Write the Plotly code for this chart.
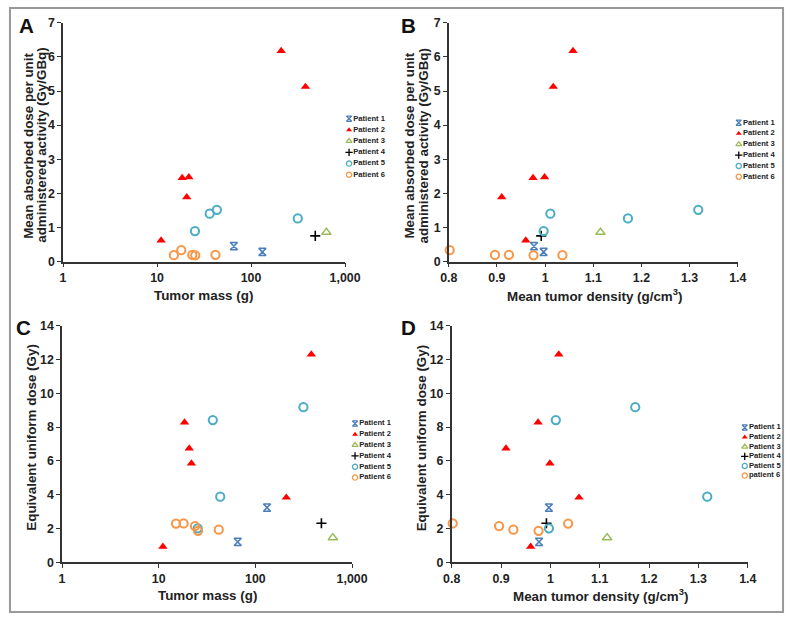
import plotly.graph_objects as go

# ---- данні: одне значення на кожне ураження ----
patient_names = ["Patient 1", "Patient 2", "Patient 3", "Patient 4", "Patient 5", "Patient 6"]
lesion_patient = [1, 1, 2, 2, 2, 2, 2, 2, 3, 4, 5, 5, 5, 5, 6, 6, 6, 6, 6]
tumor_mass = [65.7, 132, 11.05, 18.5, 20.7, 21.8, 209, 379, 633, 482,
              25.3, 36.3, 43.3, 314, 15.1, 18.1, 23.7, 25.5, 41.8]
tumor_density = [0.977, 0.997, 0.960, 0.975, 0.910, 0.999, 1.058, 1.017, 1.115, 0.992,
                 0.997, 1.011, 1.318, 1.172, 1.036, 0.802, 0.896, 0.976, 0.925]
dose_per_activity = [0.455, 0.285, 0.625, 2.455, 1.89, 2.475, 6.175, 5.125, 0.86, 0.755,
                     0.895, 1.405, 1.52, 1.265, 0.19, 0.335, 0.195, 0.185, 0.20]
eud = [1.22, 3.24, 0.93, 8.28, 6.74, 5.86, 3.84, 12.30, 1.46, 2.32,
       2.02, 8.42, 3.89, 9.18, 2.30, 2.31, 2.15, 1.87, 1.94]

mass_ticks = [1, 10, 100, 1000]
mass_ticktext = ["1", "10", "100", "1,000"]
density_ticks = [0.8, 0.9, 1.0, 1.1, 1.2, 1.3, 1.4]
density_ticktext = ["0.8", "0.9", "1", "1.1", "1.2", "1.3", "1.4"]
legend_labels_d = ["Patient 1", "Patient 2", "Patient 3", "Patient 4", "Patient 5", "patient 6"]

W, H = 800, 620
FONT = "Liberation Sans, Arial, sans-serif"

# знімок вікна приходить зменшеним і зсунутим: D = O + S * px (підібрано по сітці)
SX, OX = 0.972, 7.8
SY, OY = 0.978, 6.2
FS = 1.03  # компенсація масштабу для шрифтів і маркерів

STYLES = {
    1: dict(symbol="hourglass-open", color="#4A7EBB", size=7, line=dict(width=1.6)),
    2: dict(symbol="triangle-up", color="#FF0000", size=8, line=dict(width=0)),
    3: dict(symbol="triangle-up-open", color="#9BBB59", size=8, line=dict(width=1.5)),
    4: dict(symbol="cross-thin-open", color="#000000", size=7, line=dict(width=1.6)),
    5: dict(symbol="circle-open", color="#4BACC6", size=8, line=dict(width=2)),
    6: dict(symbol="circle-open", color="#F79646", size=8, line=dict(width=2)),
}


# координати зображення-зразка (px) -> paper
def px_x(r):
    return (r - OX) / SX / W


def px_y(r):
    return 1 - (r - OY) / SY / H


panels = [
    dict(x=tumor_mass, y=dose_per_activity, xa="x", ya="y"),
    dict(x=tumor_density, y=dose_per_activity, xa="x2", ya="y2"),
    dict(x=tumor_mass, y=eud, xa="x3", ya="y3"),
    dict(x=tumor_density, y=eud, xa="x4", ya="y4"),
]

fig = go.Figure()

for pan in panels:
    for pid in range(1, 7):
        idx = [i for i, p in enumerate(lesion_patient) if p == pid]
        st = STYLES[pid]
        fig.add_trace(go.Scatter(
            x=[pan["x"][i] for i in idx],
            y=[pan["y"][i] for i in idx],
            mode="markers",
            marker=dict(symbol=st["symbol"], color=st["color"], size=st["size"] * FS, line=st["line"]),
            xaxis=pan["xa"], yaxis=pan["ya"],
            cliponaxis=False, showlegend=False,
        ))

# легенди (по одній на панель) на накладній осі в координатах зразка
legend_boxes = [
    (349, 118, 11.2, patient_names),
    (740, 122, 10.8, patient_names),
    (355, 423, 10.8, patient_names),
    (746, 427, 9.6, legend_labels_d),
]
for lx, ly, step, labels in legend_boxes:
    for k, lab in enumerate(labels):
        st = STYLES[k + 1]
        fig.add_trace(go.Scatter(
            x=[lx], y=[ly + k * step],
            mode="markers+text",
            text=[lab], textposition="middle right",
            textfont=dict(family=FONT, size=7.6, color="#222", weight="bold"),
            marker=dict(symbol=st["symbol"], color=st["color"], size=5.2,
                        line=dict(width=1.3 if st["line"]["width"] else 0)),
            xaxis="x5", yaxis="y5", cliponaxis=False, showlegend=False,
        ))

axis_common = dict(
    showline=True, linecolor="#333", linewidth=1.5,
    ticks="outside", ticklen=4, tickwidth=1.2, tickcolor="#333",
    showgrid=False, zeroline=False,
    tickfont=dict(family=FONT, size=12 * FS, color="#222", weight="bold"),
)

# домени осей у координатах зразка
dom_a = ([62, 345], [22, 261])
dom_b = ([449, 739], [22, 261])
dom_c = ([61, 352], [325, 562])
dom_d = ([452, 749], [325, 562])


def xdom(d):
    return [px_x(d[0][0]), px_x(d[0][1])]


def ydom(d):
    return [px_y(d[1][1]), px_y(d[1][0])]


fig.update_layout(
    width=W, height=H,
    margin=dict(l=0, r=0, t=0, b=0),
    paper_bgcolor="white", plot_bgcolor="rgba(0,0,0,0)",
    showlegend=False,
    xaxis=dict(axis_common, type="log", range=[0, 3], tickvals=mass_ticks, ticktext=mass_ticktext,
               domain=xdom(dom_a), anchor="y"),
    yaxis=dict(axis_common, range=[0, 7], dtick=1, domain=ydom(dom_a), anchor="x"),
    xaxis2=dict(axis_common, range=[0.8, 1.4], tickvals=density_ticks, ticktext=density_ticktext,
                domain=xdom(dom_b), anchor="y2"),
    yaxis2=dict(axis_common, range=[0, 7], dtick=1, domain=ydom(dom_b), anchor="x2"),
    xaxis3=dict(axis_common, type="log", range=[0, 3], tickvals=mass_ticks, ticktext=mass_ticktext,
                domain=xdom(dom_c), anchor="y3"),
    yaxis3=dict(axis_common, range=[0, 14], dtick=2, domain=ydom(dom_c), anchor="x3"),
    xaxis4=dict(axis_common, range=[0.8, 1.4], tickvals=density_ticks, ticktext=density_ticktext,
                domain=xdom(dom_d), anchor="y4"),
    yaxis4=dict(axis_common, range=[0, 14], dtick=2, domain=ydom(dom_d), anchor="x4"),
    xaxis5=dict(domain=[0, 1], range=[OX, OX + W * SX], visible=False,
                anchor="y5", fixedrange=True),
    yaxis5=dict(domain=[0, 1], range=[OY + H * SY, OY], visible=False,
                anchor="x5", fixedrange=True),
)

title_font = dict(family=FONT, size=13 * FS, color="#222", weight="bold")
ann_list = []

# літери панелей
for letter, x, y in [("A", 25, 25), ("B", 409, 25), ("C", 22, 327), ("D", 409, 327)]:
    ann_list.append(dict(
        text=letter, x=px_x(x), y=px_y(y), xref="paper", yref="paper",
        showarrow=False, xanchor="center", yanchor="middle",
        font=dict(family=FONT, size=20 * FS, color="#111", weight="bold"),
    ))

# підписи осей (кожен рядок окремо, щоб тримати щільний інтервал)
axis_titles = [
    ("Tumor mass (g)", 203, 295, 0),
    ("Mean tumor density (g/cm<sup>3</sup>)", 595, 295, 0),
    ("Tumor mass (g)", 207, 595, 0),
    ("Mean tumor density (g/cm<sup>3</sup>)", 601, 595, 0),
    ("Mean absorbed dose per unit", 28, 145, -90),
    ("administered activity (Gy/GBq)", 41, 145, -90),
    ("Mean absorbed dose per unit", 410, 145, -90),
    ("administered activity (Gy/GBq)", 424, 145, -90),
    ("Equivalent uniform dose (Gy)", 30, 437, -90),
    ("Equivalent uniform dose (Gy)", 422, 437, -90),
]
for txt, x, y, ang in axis_titles:
    ann_list.append(dict(
        text=txt, x=px_x(x), y=px_y(y), xref="paper", yref="paper",
        showarrow=False, xanchor="center", yanchor="middle", textangle=ang,
        font=title_font,
    ))

fig.update_layout(annotations=ann_list)

# рамка навколо всієї фігури (права межа впирається в край вікна)
fig.add_shape(type="rect", xref="paper", yref="paper",
              x0=max(px_x(8), 1 / W), x1=min(px_x(792), 1 - 1 / W),
              y0=max(px_y(612), 1 / H), y1=min(px_y(7), 1 - 1 / H),
              line=dict(color="#999", width=2))

# прибираємо відступ body, щоб фігура стояла в (0, 0) вікна
fig.write_html("out.html", config={"displayModeBar": False},
               post_script="document.body.style.margin='0';")
